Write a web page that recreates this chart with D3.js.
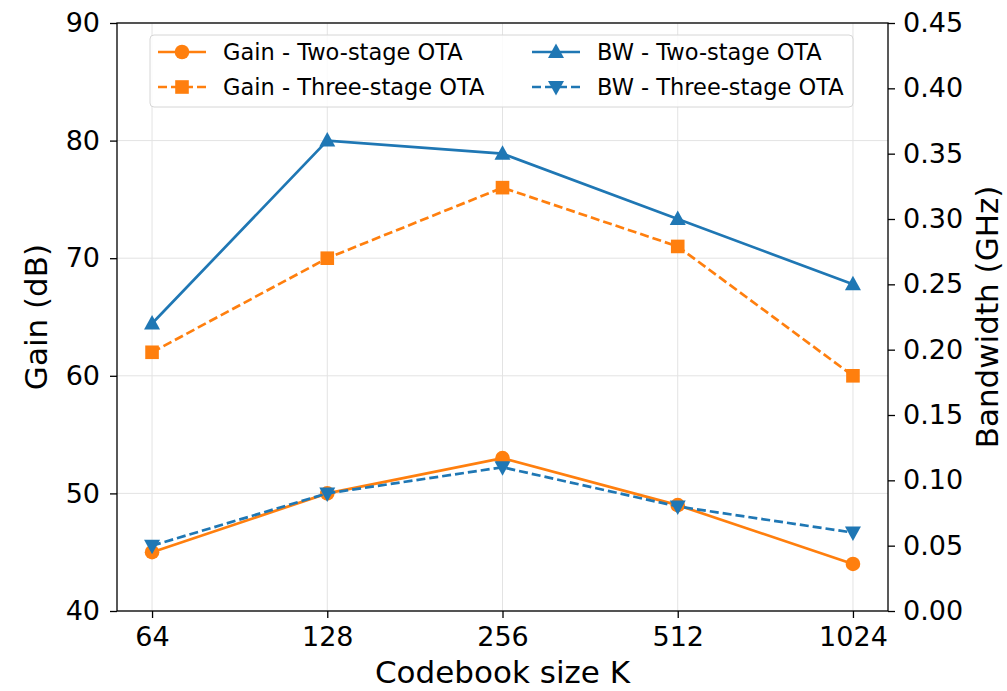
<!DOCTYPE html>
<html>
<head>
<meta charset="utf-8">
<script src="https://cdn.jsdelivr.net/npm/d3@7"></script>
<style>
  body { margin: 0; background: #fff; }
  svg { font-family: "DejaVu Sans", sans-serif; }
</style>
</head>
<body>
<div id="chart"></div>
<script>
// data
const codebook = ["64", "128", "256", "512", "1024"];
const gainTwo = [45, 50, 53, 49, 44];
const gainThree = [62, 70, 76, 71, 60];
const bwTwo = [0.22, 0.36, 0.35, 0.30, 0.25];
const bwThree = [0.05, 0.09, 0.11, 0.08, 0.06];
const gainTicks = [40, 50, 60, 70, 80, 90];
const bwTicks = [0, 0.05, 0.10, 0.15, 0.20, 0.25, 0.30, 0.35, 0.40, 0.45];

const width = 1007, height = 691;
const marginTop = 23, marginRight = 119, marginBottom = 80, marginLeft = 117;

const orange = "#ff7f0e", blue = "#1f77b4";

const svg = d3.select("#chart").append("svg")
    .attr("width", width).attr("height", height);

// evenly spaced categories with a 5% margin like matplotlib
const x = d3.scalePoint()
    .domain(codebook)
    .range([marginLeft, width - marginRight])
    .padding(0.2);

const yL = d3.scaleLinear().domain([40, 90]).range([height - marginBottom, marginTop]);
const yR = d3.scaleLinear().domain([0, 0.45]).range([height - marginBottom, marginTop]);

// grid
const grid = svg.append("g").attr("stroke", "#e3e3e3").attr("stroke-width", 1);
grid.selectAll(".gx").data(codebook).join("line")
    .attr("x1", d => x(d)).attr("x2", d => x(d))
    .attr("y1", marginTop).attr("y2", height - marginBottom);
grid.selectAll(".gy").data(gainTicks).join("line")
    .attr("x1", marginLeft).attr("x2", width - marginRight)
    .attr("y1", d => yL(d)).attr("y2", d => yL(d));

// axes
function styleAxis(g) {
  g.selectAll("text").attr("font-size", 27).attr("fill", "#000")
    .attr("font-family", "DejaVu Sans, sans-serif");
  g.selectAll("line").attr("stroke", "#000").attr("stroke-width", 1.3);
  g.select(".domain").remove();
}

svg.append("g")
    .attr("transform", `translate(0,${height - marginBottom})`)
    .call(d3.axisBottom(x).tickSize(7).tickPadding(9))
    .call(styleAxis);

svg.append("g")
    .attr("transform", `translate(${marginLeft},0)`)
    .call(d3.axisLeft(yL).tickValues(gainTicks).tickSize(7).tickPadding(10))
    .call(styleAxis);

svg.append("g")
    .attr("transform", `translate(${width - marginRight},0)`)
    .call(d3.axisRight(yR).tickValues(bwTicks).tickFormat(d3.format(".2f")).tickSize(7).tickPadding(8))
    .call(styleAxis);

// frame
svg.append("rect")
    .attr("x", marginLeft).attr("y", marginTop)
    .attr("width", width - marginRight - marginLeft)
    .attr("height", height - marginBottom - marginTop)
    .attr("fill", "none").attr("stroke", "#000").attr("stroke-width", 1.3);

// axis labels
const midY = (marginTop + height - marginBottom) / 2;
svg.append("text")
    .attr("x", (marginLeft + width - marginRight) / 2).attr("y", 683)
    .attr("text-anchor", "middle").attr("font-size", 31)
    .text("Codebook size K");
svg.append("text")
    .attr("transform", `translate(47,${midY}) rotate(-90)`)
    .attr("text-anchor", "middle").attr("font-size", 31)
    .text("Gain (dB)");
svg.append("text")
    .attr("transform", `translate(998,${midY}) rotate(-90)`)
    .attr("text-anchor", "middle").attr("font-size", 31)
    .text("Bandwidth (GHz)");

const series = [
  {name: "Gain - Two-stage OTA", values: gainTwo, y: yL, color: orange, dash: null, marker: "circle"},
  {name: "Gain - Three-stage OTA", values: gainThree, y: yL, color: orange, dash: "9,4", marker: "square"},
  {name: "BW - Two-stage OTA", values: bwTwo, y: yR, color: blue, dash: null, marker: "tri-up"},
  {name: "BW - Three-stage OTA", values: bwThree, y: yR, color: blue, dash: "9,4", marker: "tri-down"}
];

function marker(g, type, color) {
  if (type === "circle") {
    g.append("circle").attr("r", 7.3).attr("fill", color);
  } else if (type === "square") {
    g.append("rect").attr("x", -6.8).attr("y", -6.8).attr("width", 13.6).attr("height", 13.6).attr("fill", color);
  } else if (type === "tri-up") {
    g.append("path").attr("d", "M0,-8.5 L8,6 L-8,6 Z").attr("fill", color);
  } else {
    g.append("path").attr("d", "M0,8.5 L8,-6 L-8,-6 Z").attr("fill", color);
  }
}

const plot = svg.append("g");
series.forEach(s => {
  const line = d3.line().x((d, i) => x(codebook[i])).y(d => s.y(d));
  plot.append("path")
      .datum(s.values)
      .attr("d", line)
      .attr("fill", "none")
      .attr("stroke", s.color)
      .attr("stroke-width", 2.7)
      .attr("stroke-dasharray", s.dash);
  s.values.forEach((v, i) => {
    const g = plot.append("g").attr("transform", `translate(${x(codebook[i])},${s.y(v)})`);
    marker(g, s.marker, s.color);
  });
});

// legend
const legend = svg.append("g");
legend.append("rect")
    .attr("x", 150).attr("y", 35).attr("width", 703).attr("height", 72)
    .attr("rx", 4).attr("fill", "#fff").attr("fill-opacity", 0.85)
    .attr("stroke", "#d6d6d6").attr("stroke-width", 1);

const legendPos = [[158, 52], [158, 87], [532, 52], [532, 87]];
series.forEach((s, i) => {
  const [lx, ly] = legendPos[i];
  const g = legend.append("g").attr("transform", `translate(${lx},${ly})`);
  g.append("line").attr("x1", 0).attr("x2", 48).attr("y1", 0).attr("y2", 0)
      .attr("stroke", s.color).attr("stroke-width", 2.7)
      .attr("stroke-dasharray", s.dash);
  marker(g.append("g").attr("transform", "translate(24,0)"), s.marker, s.color);
  g.append("text").attr("x", 65).attr("y", 0).attr("dy", "0.36em")
      .attr("font-size", 22.5).text(s.name);
});
</script>
</body>
</html>
